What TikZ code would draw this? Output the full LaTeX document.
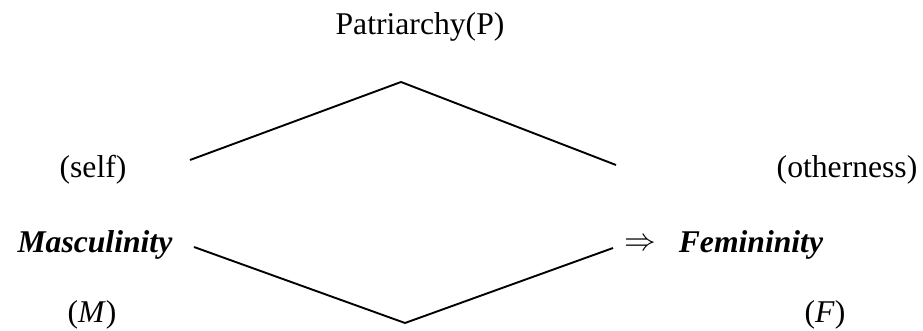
\documentclass[tikz,border=0pt]{standalone}
\usepackage{fontspec}
\setmainfont{Liberation Serif}
\usepackage{amsmath}
\usepackage{tikz}
\newcommand{\gterm}[1]{\textbf{\textit{#1}}}

\begin{document}
\begin{tikzpicture}[x=0.316pt,y=-0.316pt]
  \useasboundingbox (0,0) rectangle (923,331);
  \node (P) at (420,27) {Patriarchy(P)};
  \node (self) at (93,170) {(self)};
  \node (other) at (847,170) {(otherness)};
  \node (M) at (95,245) {\gterm{Masculinity}};
  \node (imp) at (640,245) {$\Rightarrow$};
  \node (F) at (751,245) {\gterm{Femininity}};
  \node (Mlab) at (92,315) {(\textit{M})};
  \node (Flab) at (825,315) {(\textit{F})};

  \coordinate (selfend) at (190,160);
  \coordinate (top) at (401,82);
  \coordinate (otherend) at (616,165);
  \coordinate (mascend) at (194,247);
  \coordinate (bot) at (405,323);
  \coordinate (femend) at (613,248);

  \draw[black,line width=0.6pt] (selfend) -- (top) -- (otherend);
  \draw[black,line width=0.6pt] (mascend) -- (bot) -- (femend);
\end{tikzpicture}
\end{document}
